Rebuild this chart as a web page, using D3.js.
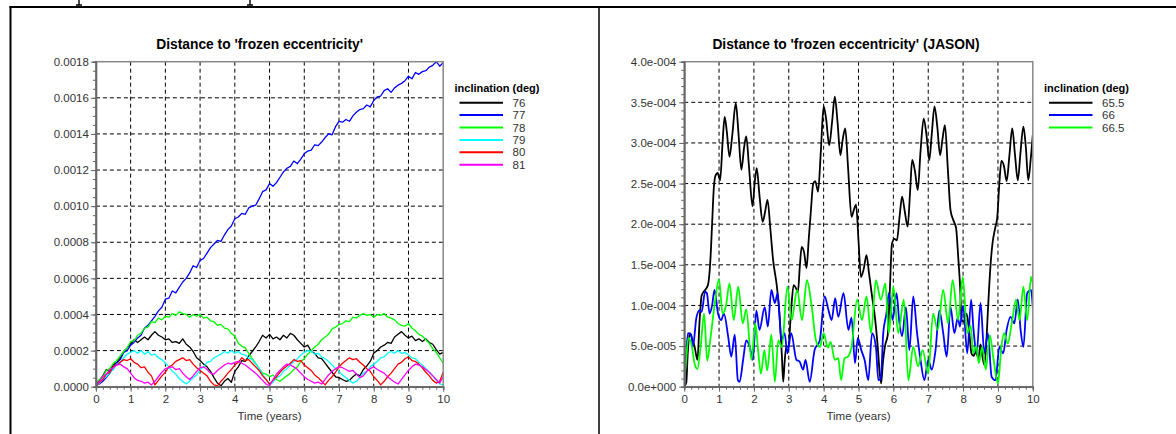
<!DOCTYPE html>
<html>
<head>
<meta charset="utf-8">
<script src="https://cdn.jsdelivr.net/npm/d3@7"></script>
<style>
    body { margin: 0; background: #fff; }
    svg { display: block; font-family: "Liberation Sans", Arial, sans-serif; }
    .tick text { fill: #333; font-size: 11.5px; }
    .axis path, .axis line { stroke: #666; }
    .grid line { stroke: #000; stroke-dasharray: 4,3; }
</style>
</head>
<body>
<svg id="chart" width="1176" height="434"></svg>
<script>
// ---- Left chart: sampled every 0.1 year, values in units of 1e-4 ----
const sampleTime = d3.range(101).map(i => i / 10);
const inclLabels = ["76", "77", "78", "79", "80", "81"];
const inclColors = ["#000000", "#0000ff", "#00ff00", "#00ffff", "#ff0000", "#ff00ff"];

const ecc76 = [0.1,0.35,0.6,0.95,0.85,1.2,1.35,1.6,1.95,2.15,
    2.35,2.6,2.45,2.6,2.75,2.6,2.85,3.05,2.85,2.75,
    2.6,2.65,2.45,2.5,2.4,2.65,2.35,2.2,1.95,1.6,
    1.45,1.25,1.1,0.85,0.5,0.2,0.05,0.3,0.45,0.25,
    0.85,1.1,1.45,1.4,1.7,1.95,2.2,2.5,2.85,2.7,
    2.9,2.65,2.75,2.6,2.85,2.7,2.95,2.85,2.6,2.4,
    2.2,2.3,1.95,1.85,1.6,1.55,1.3,1.05,0.8,0.55,
    0.5,0.4,0.3,0.35,0.55,0.7,0.6,0.95,1.15,1.4,
    1.85,2.0,2.2,2.3,2.45,2.4,2.75,2.9,3.05,2.85,
    2.7,2.8,2.55,2.65,2.5,2.65,2.45,2.35,2.05,1.8,
    1.9];
const ecc77 = [0.05,0.15,0.3,0.5,0.75,1.05,1.3,1.5,1.9,2.0,
    2.3,2.45,2.7,2.85,3.25,3.4,3.65,3.9,4.2,4.4,
    4.85,4.9,5.3,5.2,5.5,5.8,6.0,6.3,6.7,6.6,
    7.0,7.1,7.4,7.7,7.9,8.1,8.05,8.4,8.7,8.9,
    9.3,9.4,9.6,9.55,9.9,10.0,10.05,10.4,10.8,10.9,
    11.25,11.1,11.3,11.6,11.9,12.1,12.2,12.5,12.35,12.6,
    12.9,13.05,13.1,13.4,13.35,13.55,13.8,14.0,13.95,14.4,
    14.7,14.65,14.8,14.7,15.0,15.2,15.35,15.4,15.6,15.5,
    15.85,16.05,16.1,16.4,16.5,16.3,16.55,16.7,16.8,16.95,
    17.2,17.05,17.4,17.3,17.45,17.5,17.7,17.8,18.0,17.75,
    17.95];
const ecc78 = [0.2,0.4,0.55,0.9,1.0,1.3,1.45,1.7,1.95,2.15,
    2.5,2.55,2.85,2.95,3.25,3.3,3.6,3.55,3.8,3.7,
    3.9,3.85,4.05,3.95,4.15,4.05,4.0,3.85,4.0,3.9,
    4.0,3.8,3.85,3.65,3.6,3.4,3.45,3.25,3.2,2.95,
    2.8,2.4,2.25,2.15,1.85,1.55,1.3,1.0,0.75,0.7,
    0.55,0.65,0.4,0.3,0.45,0.6,0.75,0.95,1.1,1.4,
    1.55,1.8,2.0,2.2,2.35,2.6,2.75,2.9,3.2,3.3,
    3.45,3.5,3.65,3.6,3.85,3.8,3.95,4.05,3.95,4.0,
    3.85,4.0,3.95,4.05,3.85,3.8,3.7,3.5,3.4,3.35,
    3.5,3.25,3.1,2.9,2.8,2.6,2.4,2.1,1.9,1.6,
    1.3];
const ecc79 = [0.0,0.2,0.45,0.55,0.8,0.95,1.25,1.35,1.6,1.8,
    1.9,2.0,1.85,2.0,1.8,1.95,1.75,1.8,1.6,1.5,
    1.3,1.1,0.85,0.7,0.45,0.3,0.15,0.3,0.5,0.65,
    0.95,1.1,1.35,1.4,1.6,1.7,1.8,1.95,1.85,2.0,
    1.85,1.95,1.8,1.75,1.6,1.5,1.25,1.0,0.7,0.4,
    0.1,0.25,0.5,0.6,0.85,1.0,1.2,1.4,1.55,1.75,
    1.9,2.0,1.95,1.8,1.85,1.65,1.55,1.4,1.2,1.0,
    0.85,0.65,0.5,0.35,0.2,0.3,0.5,0.75,0.85,1.1,
    1.25,1.4,1.6,1.65,1.85,1.95,1.85,2.0,1.85,1.9,
    1.75,1.6,1.55,1.35,1.2,1.0,0.8,0.6,0.35,0.15,
    0.1];
const ecc80 = [0.0,0.25,0.4,0.7,0.8,1.1,1.2,1.35,1.5,1.45,
    1.55,1.35,1.25,1.05,1.1,0.8,0.6,0.1,0.35,0.6,
    0.8,1.1,1.2,1.4,1.5,1.6,1.45,1.5,1.25,1.05,
    0.9,0.75,0.6,0.3,0.1,0.05,0.3,0.5,0.75,0.95,
    1.2,1.35,1.6,1.45,1.5,1.3,1.1,0.9,0.6,0.4,
    0.15,0.35,0.55,0.8,1.0,1.15,1.3,1.5,1.4,1.45,
    1.2,1.05,0.9,0.65,0.5,0.3,0.1,0.35,0.55,0.8,
    1.1,1.3,1.45,1.6,1.5,1.55,1.35,1.2,1.0,0.85,
    0.55,0.35,0.1,0.3,0.55,0.75,1.0,1.25,1.35,1.55,
    1.65,1.45,1.4,1.25,1.05,0.8,0.6,0.35,0.2,0.3,
    0.8];
const ecc81 = [0.05,0.3,0.55,0.7,0.95,1.05,1.2,1.25,1.1,1.0,
    0.75,0.5,0.35,0.3,0.2,0.25,0.1,0.3,0.55,0.8,
    1.0,1.05,1.1,0.95,1.0,0.75,0.55,0.4,0.6,0.85,
    1.05,1.1,0.95,0.75,0.7,0.9,1.05,1.2,1.3,1.25,
    1.35,1.4,1.3,1.2,1.05,0.9,0.75,0.55,0.35,0.15,
    0.05,0.4,0.7,0.9,1.1,1.25,1.2,1.1,0.95,0.75,
    0.55,0.4,0.3,0.2,0.25,0.15,0.4,0.65,0.85,1.0,
    1.1,1.05,0.95,0.85,0.9,0.7,0.5,0.6,0.85,1.0,
    1.1,0.95,0.85,0.75,0.55,0.4,0.25,0.15,0.4,0.65,
    0.9,1.1,1.25,1.2,1.1,0.95,0.8,0.6,0.4,0.2,
    0.55];

// ---- Right chart (JASON): [time, value in units of 1e-5] at turning points ----
const jasonLabels = ["65.5", "66", "66.5"];
const jasonColors = ["#000000", "#0000ff", "#00ff00"];

const jason655 = [[0,0],[0.06,0.5],[0.1,4],[0.16,6.6],[0.22,6.0],[0.3,4.9],[0.38,3.3],[0.44,8],[0.5,11.2],
    [0.58,11.8],[0.68,12.5],[0.75,15.5],[0.8,20],[0.85,24.5],[0.9,26.0],[0.96,26.3],[1.03,25.4],[1.1,30],
    [1.16,33.2],[1.22,31.5],[1.3,28.3],[1.38,31],[1.48,34.9],[1.56,31],[1.64,26.7],[1.72,29.5],[1.78,30.8],
    [1.86,27],[1.96,22.2],[2.02,25],[2.08,26.9],[2.16,23.5],[2.25,20.3],[2.32,21.5],[2.39,23.0],[2.47,19.5],
    [2.55,15.6],[2.66,12.3],[2.74,8.5],[2.8,4],[2.84,0.6],[2.88,3],[2.93,5.0],[2.99,4.9],[3.06,9],[3.14,12.5],
    [3.2,12.2],[3.26,11.6],[3.32,15],[3.37,17.2],[3.44,16.5],[3.51,14.6],[3.57,18],[3.64,22],[3.7,25],
    [3.76,25.3],[3.84,24.0],[3.92,29],[4.0,34.5],[4.07,33],[4.16,29.7],[4.24,32.5],[4.32,35.7],[4.4,32.5],
    [4.48,28.5],[4.55,30.5],[4.62,31.8],[4.7,27],[4.8,20.9],[4.87,21.8],[4.93,22.4],[5.0,18],[5.07,13.5],
    [5.15,14.5],[5.23,16.2],[5.3,14],[5.39,11.1],[5.47,8.6],[5.55,5],[5.61,1.6],[5.65,0.4],[5.7,3],[5.76,5],
    [5.84,6.4],[5.9,12],[5.96,17.6],[6.03,18.2],[6.1,18.0],[6.18,21],[6.25,23.4],[6.33,21.5],[6.41,19.7],
    [6.48,24],[6.54,27.9],[6.62,26.5],[6.7,24.2],[6.78,29],[6.87,33.0],[6.95,31],[7.03,27.9],[7.1,31],
    [7.18,34.5],[7.26,32],[7.34,28.5],[7.41,30.5],[7.48,32.2],[7.56,27],[7.64,21.7],[7.72,20.5],[7.8,19.5],
    [7.86,16],[7.91,12.7],[7.96,8.2],[8.02,8.0],[8.1,9.0],[8.17,7],[8.24,4.1],[8.3,3.8],[8.37,4.3],[8.44,3.5],
    [8.5,5.2],[8.56,3.6],[8.61,2.7],[8.66,5],[8.72,10],[8.78,14.5],[8.84,17.5],[8.92,19.5],[8.98,20.8],
    [9.04,25],[9.1,27.8],[9.17,27.2],[9.25,25.3],[9.33,28.5],[9.41,31.8],[9.49,28.5],[9.57,25.4],[9.65,29],
    [9.73,32.0],[9.8,29.5],[9.87,25.4],[9.94,28],[10.0,31.0]];
const jason66 = [[0,0.4],[0.05,3.5],[0.11,6.6],[0.2,6.4],[0.25,4.9],[0.35,8.5],[0.44,9.4],[0.5,9.2],[0.6,11.7],
    [0.65,11.5],[0.73,9.0],[0.8,10],[0.87,11.9],[0.97,9.0],[1.06,8.2],[1.14,9.0],[1.26,6.2],[1.35,3.7],
    [1.45,6.4],[1.54,0.8],[1.59,0.6],[1.69,3.3],[1.78,5.7],[1.88,4.9],[1.97,3.3],[2.07,9.4],[2.16,7.0],
    [2.31,9.8],[2.4,7.4],[2.5,11.9],[2.6,10.3],[2.68,11.5],[2.79,5.7],[2.88,6.6],[2.96,4.1],[3.07,6.6],
    [3.22,3.3],[3.31,3.1],[3.41,2.1],[3.48,3.3],[3.6,0.6],[3.74,4.5],[3.89,5.7],[4.03,11.1],[4.14,9.4],
    [4.23,8.2],[4.33,10.9],[4.42,8.6],[4.57,11.5],[4.71,7.0],[4.8,8.5],[4.9,2.9],[4.98,6],[5.08,4.5],
    [5.18,3.2],[5.28,0.8],[5.39,6.6],[5.5,4.9],[5.57,0.8],[5.64,1],[5.71,6.6],[5.8,9],[5.87,11.5],[5.98,8.2],
    [6.09,11.5],[6.17,8],[6.25,6.2],[6.36,9.8],[6.46,4.5],[6.57,11.1],[6.68,6.6],[6.78,3.3],[6.89,0.8],
    [7.0,3.3],[7.1,2.1],[7.21,4.5],[7.32,9.4],[7.43,6.6],[7.53,3.7],[7.64,9.8],[7.75,6.6],[7.85,8.5],
    [7.91,7.4],[8.0,10],[8.12,4.1],[8.23,10.7],[8.3,7],[8.39,4.1],[8.5,10.3],[8.61,4.1],[8.71,6.6],[8.82,1.2],
    [8.93,0.8],[9.04,4.9],[9.15,4.1],[9.25,7],[9.36,8.6],[9.47,7.8],[9.57,10.7],[9.65,7],[9.73,4.9],
    [9.84,11.5],[9.95,11.9],[10,9.8]];
const jason665 = [[0,1.0],[0.05,3],[0.12,6.0],[0.22,5],[0.3,2.8],[0.38,2.2],[0.48,5.3],[0.57,9.0],[0.66,3.2],
    [0.76,6.2],[0.87,10],[1.0,13.2],[1.1,9],[1.2,10],[1.3,12.7],[1.42,8.2],[1.55,12.3],[1.68,7.8],[1.78,9.5],
    [1.93,3.3],[2.04,7.8],[2.12,4.5],[2.2,1.6],[2.3,4.5],[2.38,2],[2.5,6.4],[2.6,0.6],[2.7,5.7],[2.8,4.9],
    [2.96,12.3],[3.08,8.2],[3.24,11.9],[3.38,8.2],[3.52,13.1],[3.66,9.8],[3.78,5.7],[3.89,4.9],[4.0,6.6],
    [4.12,4.8],[4.2,5.5],[4.32,3.3],[4.42,3.5],[4.5,0.8],[4.6,3.5],[4.7,3.7],[4.8,4.9],[4.96,10.7],[5.1,8.2],
    [5.23,11.1],[5.36,6.6],[5.5,13.1],[5.64,10.7],[5.77,12.7],[5.87,6.6],[6.0,12.3],[6.14,6.6],[6.3,10.7],
    [6.43,0.8],[6.57,4.9],[6.71,2.5],[6.84,4.5],[7.0,1.6],[7.14,9.0],[7.27,7.0],[7.43,11.9],[7.57,7.8],
    [7.7,13.1],[7.86,8.2],[7.99,13.5],[8.12,6.6],[8.22,7.5],[8.29,4.1],[8.38,5],[8.45,2.9],[8.55,4.9],
    [8.65,2.1],[8.77,6.3],[8.87,3.5],[9.0,0.4],[9.1,5],[9.18,6.6],[9.28,5.3],[9.41,8.2],[9.52,10.7],
    [9.62,8.2],[9.73,12.3],[9.84,8.2],[9.95,13.5],[10,12.7]];

const xTicks = d3.range(0, 11);

const svg = d3.select("#chart");
const plotTop = 61.7, plotBottom = 386.7;

// Page frame: top rule, left rule, divider, and descenders of the cut-off line above
svg.append("line").attr("x1", 9.5).attr("x2", 1176).attr("y1", 7).attr("y2", 7)
    .attr("stroke", "#000").attr("stroke-width", 2);
svg.append("line").attr("x1", 10.5).attr("x2", 10.5).attr("y1", 6).attr("y2", 434)
    .attr("stroke", "#000").attr("stroke-width", 2);
svg.append("line").attr("x1", 599).attr("x2", 599).attr("y1", 7).attr("y2", 434)
    .attr("stroke", "#000").attr("stroke-width", 1.5);
[79, 250].forEach(px => {
    svg.append("path")
        .attr("d", `M${px},0V5M${px - 3},5H${px + 3}`)
        .attr("stroke", "#000").attr("stroke-width", 1.4).attr("fill", "none");
});

function expLabel(v) {
    if (v === 0) return "0.0e+000";
    const e = Math.floor(Math.log10(v) + 1e-9);
    const m = (v / Math.pow(10, e)).toFixed(1);
    return `${m}e${e < 0 ? "-" : "+"}${String(Math.abs(e)).padStart(3, "0")}`;
}

function drawPanel(cfg) {
    const xScale = d3.scaleLinear().domain([0, 10]).range([cfg.left, cfg.right]);
    const yScale = d3.scaleLinear().domain([0, cfg.yMax]).range([plotBottom, plotTop]);
    const g = svg.append("g");

    // Grid
    const grid = g.append("g").attr("class", "grid");
    grid.selectAll(".vg").data(xTicks.slice(1, -1)).join("line")
        .attr("class", "vg")
        .attr("x1", d => xScale(d)).attr("x2", d => xScale(d))
        .attr("y1", plotTop).attr("y2", plotBottom);
    grid.selectAll(".hg").data(cfg.yTicks.slice(1, -1)).join("line")
        .attr("class", "hg")
        .attr("x1", cfg.left).attr("x2", cfg.right)
        .attr("y1", d => yScale(d)).attr("y2", d => yScale(d));

    // Lines
    const clipId = "clip-" + cfg.id;
    g.append("clipPath").attr("id", clipId).append("rect")
        .attr("x", cfg.left).attr("y", plotTop)
        .attr("width", cfg.right - cfg.left).attr("height", plotBottom - plotTop);
    const line = d3.line()
        .x(d => xScale(d[0]))
        .y(d => yScale(d[1]))
        .curve(cfg.curve);
    g.append("g").attr("clip-path", `url(#${clipId})`)
        .selectAll("path").data(cfg.series).join("path")
        .attr("d", d => line(d))
        .attr("fill", "none")
        .attr("stroke", (d, i) => cfg.colors[i])
        .attr("stroke-width", cfg.lineWidth)
        .attr("stroke-linejoin", "round");

    // Plot box
    g.append("rect")
        .attr("x", cfg.left).attr("y", plotTop)
        .attr("width", cfg.right - cfg.left).attr("height", plotBottom - plotTop)
        .attr("fill", "none").attr("stroke", "#888").attr("stroke-width", 1.5);

    // Axes: minor ticks first, then major with labels
    g.append("g").attr("class", "axis")
        .attr("transform", `translate(0, ${plotBottom})`)
        .call(d3.axisBottom(xScale).tickValues(d3.range(0, 10.01, 0.2)).tickSize(3).tickFormat(""));
    g.append("g").attr("class", "axis")
        .attr("transform", `translate(0, ${plotBottom})`)
        .call(d3.axisBottom(xScale).tickValues(xTicks).tickSize(5).tickPadding(3).tickSizeOuter(0));
    g.append("g").attr("class", "axis")
        .attr("transform", `translate(${cfg.left}, 0)`)
        .call(d3.axisLeft(yScale).tickValues(cfg.yMinor).tickSize(3).tickFormat(""));
    g.append("g").attr("class", "axis")
        .attr("transform", `translate(${cfg.left}, 0)`)
        .call(d3.axisLeft(yScale).tickValues(cfg.yTicks).tickSize(5).tickPadding(cfg.yPad)
            .tickSizeOuter(0).tickFormat(cfg.yFormat));
    g.selectAll(".axis .domain").attr("stroke", "#666").attr("stroke-width", 1.5);

    // Title and x label
    g.append("text")
        .attr("x", cfg.titleX).attr("y", 48.5)
        .attr("text-anchor", "middle")
        .attr("font-size", "13.8px").attr("font-weight", "bold")
        .text(cfg.title);
    g.append("text")
        .attr("x", (cfg.left + cfg.right) / 2).attr("y", 419.5)
        .attr("text-anchor", "middle")
        .attr("font-size", "11.5px").attr("fill", "#333")
        .text("Time (years)");

    // Legend
    const leg = g.append("g");
    leg.append("text")
        .attr("x", cfg.legendX).attr("y", 91.5)
        .attr("font-size", "11px").attr("font-weight", "bold")
        .text("inclination (deg)");
    cfg.labels.forEach((lab, i) => {
        const ly = 102.7 + i * 12.4;
        leg.append("line")
            .attr("x1", cfg.legendX + 5).attr("x2", cfg.legendX + 48.5)
            .attr("y1", ly).attr("y2", ly)
            .attr("stroke", cfg.colors[i]).attr("stroke-width", 2);
        leg.append("text")
            .attr("x", cfg.legendX + 58).attr("y", ly).attr("dy", "0.35em")
            .attr("font-size", "11.5px").attr("fill", "#333")
            .text(lab);
    });
}

const leftSeries = [ecc76, ecc77, ecc78, ecc79, ecc80, ecc81]
    .map(vals => sampleTime.map((t, i) => [t, vals[i]]));

drawPanel({
    id: "left",
    left: 95.9, right: 443.2,
    yMax: 18,
    yTicks: d3.range(0, 19, 2),
    yMinor: d3.range(0, 18.01, 0.5),
    yPad: 2,
    yFormat: d => (d * 1e-4).toFixed(4),
    series: leftSeries,
    colors: inclColors,
    labels: inclLabels,
    curve: d3.curveLinear,
    lineWidth: 1.3,
    title: "Distance to 'frozen eccentricity'",
    titleX: 259.6,
    legendX: 454.5
});

drawPanel({
    id: "right",
    left: 684.2, right: 1032.8,
    yMax: 40,
    yTicks: d3.range(0, 41, 5),
    yMinor: d3.range(0, 40.01, 1),
    yPad: 3,
    yFormat: d => expLabel(d * 1e-5),
    series: [jason655, jason66, jason665],
    colors: jasonColors,
    labels: jasonLabels,
    curve: d3.curveMonotoneX,
    lineWidth: 1.8,
    title: "Distance to 'frozen eccentricity' (JASON)",
    titleX: 846,
    legendX: 1044
});
</script>
</body>
</html>
